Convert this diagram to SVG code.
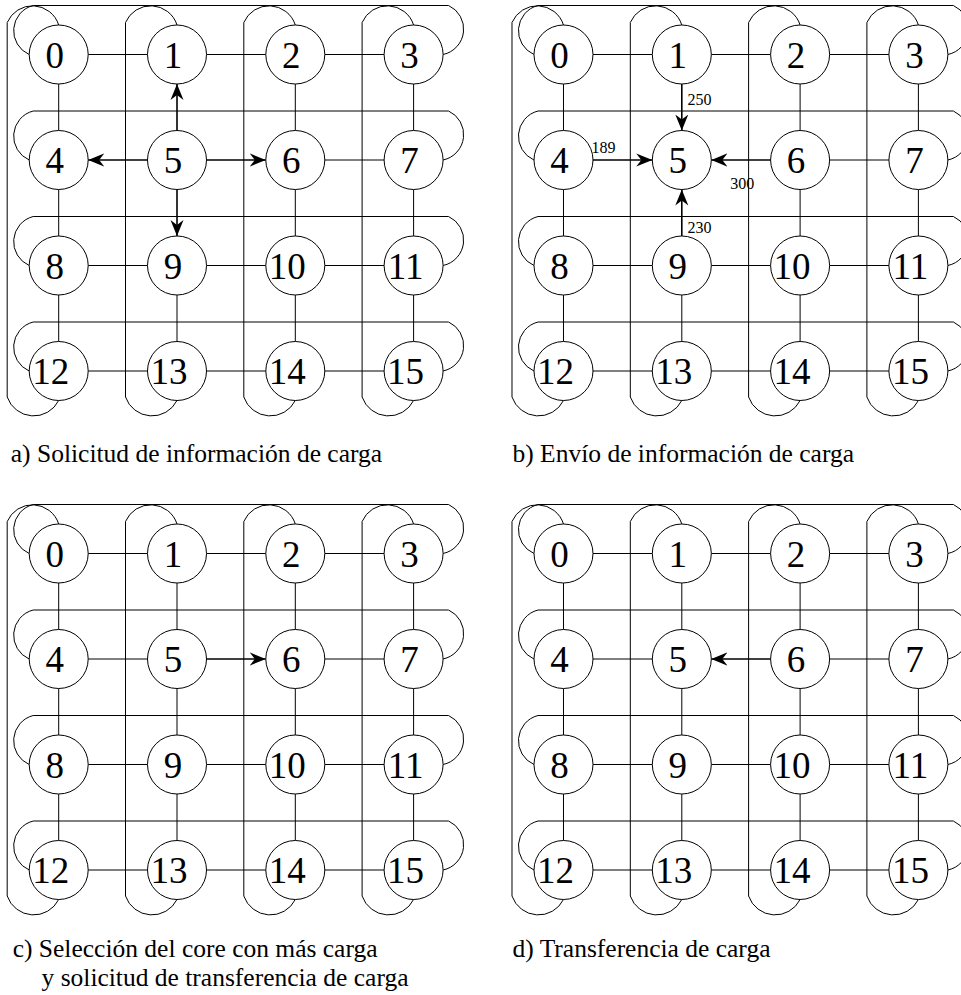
<svg xmlns="http://www.w3.org/2000/svg" width="961" height="995" viewBox="0 0 961 995">
<style>
.n circle{fill:#fff;stroke:#000;stroke-width:1}
.n text{font-family:"Liberation Serif","Times New Roman",serif;font-size:37px;text-anchor:middle;fill:#000}
.w{fill:none;stroke:#000;stroke-width:1}
.c path{fill:none;stroke:#000;stroke-width:1}
.c .ar{stroke-width:1.6;marker-end:url(#ah)}
.cap{font-family:"Liberation Serif","Times New Roman",serif;font-size:25.5px;fill:#000}
.el{font-family:"Liberation Serif","Times New Roman",serif;font-size:16px;fill:#000}
</style>
<defs>
<marker id="ah" markerUnits="userSpaceOnUse" markerWidth="17" markerHeight="14" viewBox="0 0 17 14" refX="16" refY="7" orient="auto">
<path d="M0,0.5 L16,7 L0,13.5 L5,7 Z" fill="#000" stroke="none"/>
</marker>
<g id="wraps" class="w" fill="none" stroke="#000" stroke-width="1">
<path class="w" d="M29.2,54.5 A26,26 0 0 1 33.2,5.5 H448.6 A26,26 0 0 1 443.1,54.5"/>
<path class="w" d="M29.2,160 A26,26 0 0 1 33.2,111 H448.6 A26,26 0 0 1 443.1,160"/>
<path class="w" d="M29.2,265.5 A26,26 0 0 1 33.2,216.5 H448.6 A26,26 0 0 1 443.1,265.5"/>
<path class="w" d="M29.2,371 A26,26 0 0 1 33.2,322 H448.6 A26,26 0 0 1 443.1,371"/>
<path class="w" d="M58.7,25 A27.5,27.5 0 0 0 7.2,22.5 V397 A28,28 0 0 0 58.7,400.5"/>
<path class="w" d="M177,25 A27.5,27.5 0 0 0 125.5,22.5 V397 A28,28 0 0 0 177,400.5"/>
<path class="w" d="M295.3,25 A27.5,27.5 0 0 0 243.8,22.5 V397 A28,28 0 0 0 295.3,400.5"/>
<path class="w" d="M413.6,25 A27.5,27.5 0 0 0 362.1,22.5 V397 A28,28 0 0 0 413.6,400.5"/>
</g>
<g id="nodes">
<g class="n"><circle cx="58.7" cy="54.5" r="29.5"/><text x="54.7" y="67.5">0</text></g>
<g class="n"><circle cx="177" cy="54.5" r="29.5"/><text x="173" y="67.5">1</text></g>
<g class="n"><circle cx="295.3" cy="54.5" r="29.5"/><text x="291.3" y="67.5">2</text></g>
<g class="n"><circle cx="413.6" cy="54.5" r="29.5"/><text x="409.6" y="67.5">3</text></g>
<g class="n"><circle cx="58.7" cy="160" r="29.5"/><text x="54.7" y="173">4</text></g>
<g class="n"><circle cx="177" cy="160" r="29.5"/><text x="173" y="173">5</text></g>
<g class="n"><circle cx="295.3" cy="160" r="29.5"/><text x="291.3" y="173">6</text></g>
<g class="n"><circle cx="413.6" cy="160" r="29.5"/><text x="409.6" y="173">7</text></g>
<g class="n"><circle cx="58.7" cy="265.5" r="29.5"/><text x="54.7" y="278.5">8</text></g>
<g class="n"><circle cx="177" cy="265.5" r="29.5"/><text x="173" y="278.5">9</text></g>
<g class="n"><circle cx="295.3" cy="265.5" r="29.5"/><text x="287.3" y="278.5">10</text></g>
<g class="n"><circle cx="413.6" cy="265.5" r="29.5"/><text x="405.6" y="278.5">11</text></g>
<g class="n"><circle cx="58.7" cy="371" r="29.5"/><text x="50.7" y="384">12</text></g>
<g class="n"><circle cx="177" cy="371" r="29.5"/><text x="169" y="384">13</text></g>
<g class="n"><circle cx="295.3" cy="371" r="29.5"/><text x="287.3" y="384">14</text></g>
<g class="n"><circle cx="413.6" cy="371" r="29.5"/><text x="405.6" y="384">15</text></g>
</g>
</defs>

<g id="panel-a">
<g id="a-connectors" class="c">
<use href="#wraps"/>
<path d="M88.2,54.5H147.5M206.5,54.5H265.8M324.8,54.5H384.1M324.8,160H384.1M88.2,265.5H147.5M206.5,265.5H265.8M324.8,265.5H384.1M88.2,371H147.5M206.5,371H265.8M324.8,371H384.1M58.7,84V130.5M58.7,189.5V236M58.7,295V341.5M177,295V341.5M295.3,84V130.5M295.3,189.5V236M295.3,295V341.5M413.6,84V130.5M413.6,189.5V236M413.6,295V341.5"/>
<path class="ar" d="M177,130.5V84"/>
<path class="ar" d="M147.5,160H88.2"/>
<path class="ar" d="M206.5,160H265.8"/>
<path class="ar" d="M177,189.5V236"/>
</g>
<g id="a-nodes"><use href="#nodes"/></g>
</g>

<g id="panel-b" transform="translate(504.8,0)">
<g id="b-connectors" class="c">
<use href="#wraps"/>
<path d="M88.2,54.5H147.5M206.5,54.5H265.8M324.8,54.5H384.1M324.8,160H384.1M88.2,265.5H147.5M206.5,265.5H265.8M324.8,265.5H384.1M88.2,371H147.5M206.5,371H265.8M324.8,371H384.1M58.7,84V130.5M58.7,189.5V236M58.7,295V341.5M177,295V341.5M295.3,84V130.5M295.3,189.5V236M295.3,295V341.5M413.6,84V130.5M413.6,189.5V236M413.6,295V341.5"/>
<path class="ar" d="M177,84V130.5"/>
<path class="ar" d="M88.2,160H147.5"/>
<path class="ar" d="M265.8,160H206.5"/>
<path class="ar" d="M177,236V189.5"/>
<text class="el" x="182.8" y="105">250</text>
<text class="el" x="86.7" y="153">189</text>
<text class="el" x="225.5" y="189">300</text>
<text class="el" x="182.8" y="232.5">230</text>
</g>
<g id="b-nodes"><use href="#nodes"/></g>
</g>

<g id="panel-c" transform="translate(0,499)">
<g id="c-connectors" class="c">
<use href="#wraps"/>
<path d="M88.2,54.5H147.5M206.5,54.5H265.8M324.8,54.5H384.1M88.2,160H147.5M324.8,160H384.1M88.2,265.5H147.5M206.5,265.5H265.8M324.8,265.5H384.1M88.2,371H147.5M206.5,371H265.8M324.8,371H384.1M58.7,84V130.5M58.7,189.5V236M58.7,295V341.5M177,84V130.5M177,189.5V236M177,295V341.5M295.3,84V130.5M295.3,189.5V236M295.3,295V341.5M413.6,84V130.5M413.6,189.5V236M413.6,295V341.5"/>
<path class="ar" d="M206.5,160H265.8"/>
</g>
<g id="c-nodes"><use href="#nodes"/></g>
</g>

<g id="panel-d" transform="translate(504.8,499)">
<g id="d-connectors" class="c">
<use href="#wraps"/>
<path d="M88.2,54.5H147.5M206.5,54.5H265.8M324.8,54.5H384.1M88.2,160H147.5M324.8,160H384.1M88.2,265.5H147.5M206.5,265.5H265.8M324.8,265.5H384.1M88.2,371H147.5M206.5,371H265.8M324.8,371H384.1M58.7,84V130.5M58.7,189.5V236M58.7,295V341.5M177,84V130.5M177,189.5V236M177,295V341.5M295.3,84V130.5M295.3,189.5V236M295.3,295V341.5M413.6,84V130.5M413.6,189.5V236M413.6,295V341.5"/>
<path class="ar" d="M265.8,160H206.5"/>
</g>
<g id="d-nodes"><use href="#nodes"/></g>
</g>

<g id="captions">
<text class="cap" x="10.8" y="462">a) Solicitud de información de carga</text>
<text class="cap" x="512.5" y="462">b) Envío de información de carga</text>
<text class="cap" x="12.7" y="957">c) Selección del core con más carga</text>
<text class="cap" x="41.5" y="986">y solicitud de transferencia de carga</text>
<text class="cap" x="512.5" y="957">d) Transferencia de carga</text>
</g>
</svg>
